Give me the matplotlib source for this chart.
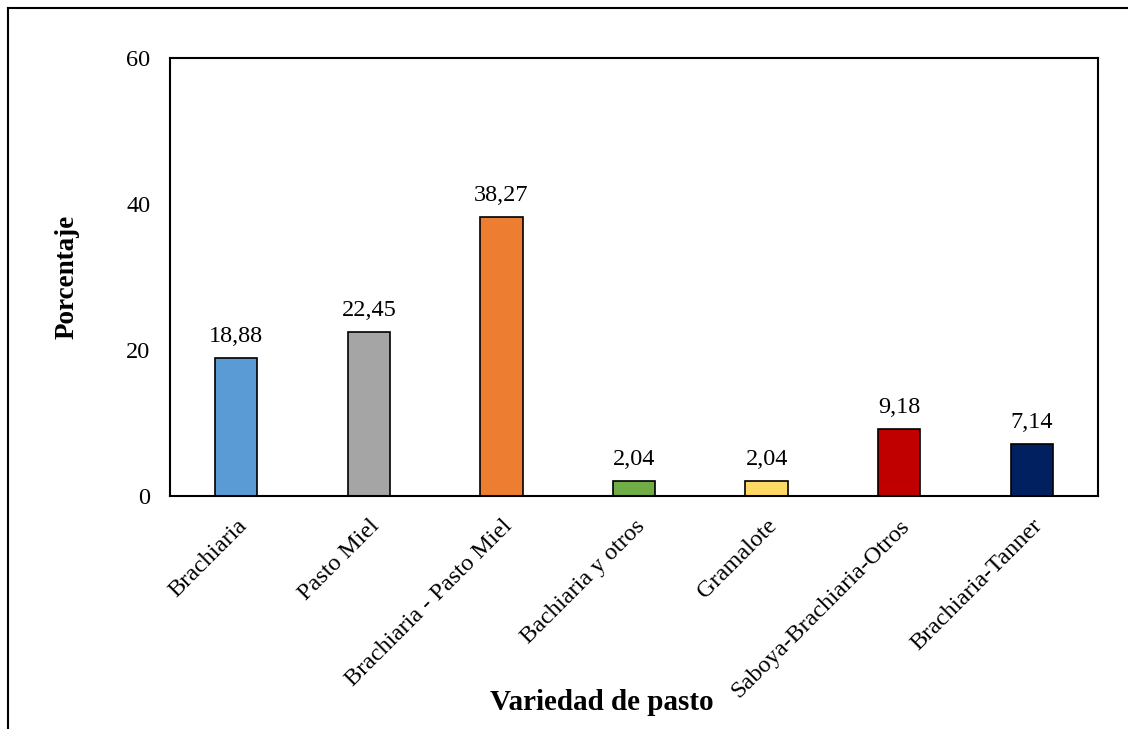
import numpy as np
import matplotlib.pyplot as plt
from matplotlib.lines import Line2D

plt.rcParams['font.family'] = ['Liberation Serif', 'DejaVu Serif']

variedades = ['Brachiaria', 'Pasto Miel', 'Brachiaria - Pasto Miel', 'Bachiaria y otros',
              'Gramalote', 'Saboya-Brachiaria-Otros', 'Brachiaria-Tanner']
porcentaje = [18.88, 22.45, 38.27, 2.04, 2.04, 9.18, 7.14]
colores = ['#5B9BD5', '#A5A5A5', '#ED7D31', '#70AD47', '#FFD966', '#C00000', '#002060']

fig = plt.figure(figsize=(11.28, 7.29), dpi=100)
ax = fig.add_axes([170/1128, 1 - 496/729, (1098-170)/1128, (496-58)/729])

x = np.arange(len(variedades))
bars = ax.bar(x, porcentaje, width=0.32, color=colores, edgecolor='black', linewidth=1.2)
for b, v in zip(bars, porcentaje):
    ax.text(b.get_x() + b.get_width()/2, v + 1.5, f'{v:.2f}'.replace('.', ','),
            ha='center', va='bottom', fontsize=17.5)

ax.set_xlim(-0.5, len(variedades) - 0.5)
ax.set_ylim(0, 60)
ax.set_yticks([0, 20, 40, 60])
ax.tick_params(axis='y', length=0, pad=14, labelsize=17.5)
ax.tick_params(axis='x', length=0, pad=14, labelsize=17.5)
ax.set_xticks(x)
ax.set_xticklabels(variedades, rotation=45, ha='right', rotation_mode='anchor')
for s in ax.spines.values():
    s.set_linewidth(1.5)

ax.set_ylabel('Porcentaje', fontsize=19.5, fontweight='bold', labelpad=34)
fig.text(602/1128, 1 - 703/729, 'Variedad de pasto', fontsize=21, fontweight='bold',
         ha='center', va='center')

fig.add_artist(Line2D([8/1128, 1], [1 - 8/729, 1 - 8/729], color='black', linewidth=1.5))
fig.add_artist(Line2D([8/1128, 8/1128], [0, 1 - 8/729], color='black', linewidth=1.5))

plt.savefig('out.png', dpi=100)
